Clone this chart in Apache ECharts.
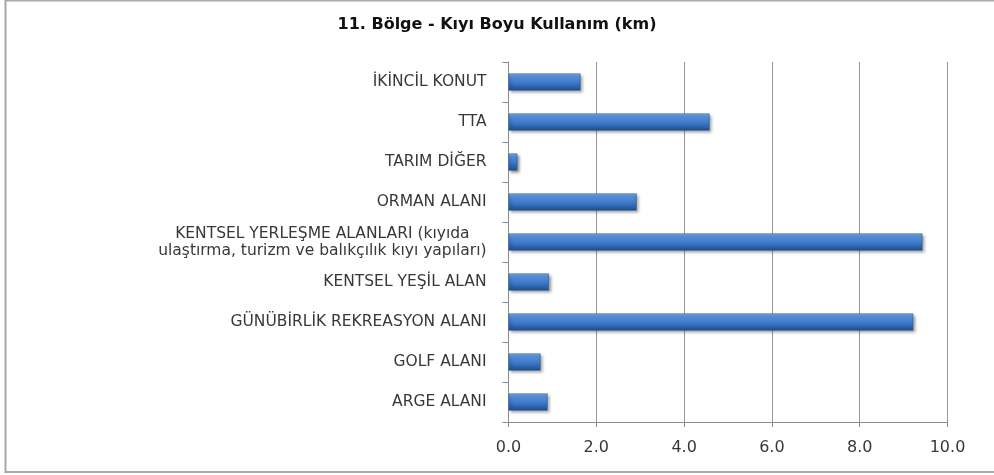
<!DOCTYPE html>
<html lang="tr">
<head>
	<meta charset="UTF-8">
	<title>11. Bölge - Kıyı Boyu Kullanım</title>
	<script src="https://cdn.jsdelivr.net/npm/echarts@6/dist/echarts.min.js"></script>
	<style>
		html,body{margin:0;padding:0;background:#fff;}
		#chart{width:994px;height:475px;}
	</style>
</head>
<body>
	<div id="chart"></div>
	<script>
	// kategoriler (alttan üste)
	var categories = [
		'ARGE ALANI',
		'GOLF ALANI',
		'GÜNÜBİRLİK REKREASYON ALANI',
		'KENTSEL YEŞİL ALAN',
		'KENTSEL YERLEŞME ALANLARI (kıyıda\nulaştırma, turizm ve balıkçılık kıyı yapıları)',
		'ORMAN ALANI',
		'TARIM DİĞER',
		'TTA',
		'İKİNCİL KONUT'
	];
	// km
	var values = [0.89, 0.73, 9.22, 0.92, 9.43, 2.92, 0.2, 4.58, 1.64];
	var xTicks = [0, 2, 4, 6, 8, 10];

	var font = '"DejaVu Sans", "Liberation Sans", sans-serif';

	var myChart = echarts.init(document.getElementById('chart'), null, {renderer: 'canvas'});

	var option = {
		backgroundColor: '#fff',
		animation: false,
		title: {
			text: '11. Bölge - Kıyı Boyu Kullanım (km)',
			left: 'center',
			top: 12,
			textStyle: {color: '#111', fontSize: 16, fontWeight: 'bold', fontFamily: font}
		},
		graphic: [{
			type: 'rect',
			shape: {x: 5.5, y: 0.5, width: 1000, height: 471.5},
			style: {fill: 'none', stroke: '#a8a8a8', lineWidth: 2},
			silent: true
		}],
		grid: {left: 508.5, right: 46.5, top: 62, bottom: 53, containLabel: false},
		xAxis: {
			type: 'value',
			min: xTicks[0],
			max: xTicks[xTicks.length - 1],
			interval: 2,
			axisLine: {show: true, lineStyle: {color: '#8c8c8c', width: 1}},
			axisTick: {show: true, length: 5, lineStyle: {color: '#8c8c8c'}},
			splitLine: {show: true, lineStyle: {color: '#9a9a9a', width: 1}},
			axisLabel: {
				color: '#383838', fontSize: 16, fontFamily: font, margin: 18,
				formatter: function (v) { return v.toFixed(1); }
			}
		},
		yAxis: {
			type: 'category',
			data: categories,
			axisLine: {show: true, lineStyle: {color: '#8c8c8c', width: 1}},
			axisTick: {show: true, length: 6, lineStyle: {color: '#8c8c8c'}},
			axisLabel: {
				color: '#383838', fontSize: 15.5, fontFamily: font, margin: 22, lineHeight: 17,
				formatter: function (v) {
					if (v.indexOf('\n') < 0) return v;
					var parts = v.split('\n');
					return parts.map(function (p) { return '{c|' + p + '}'; }).join('\n');
				},
				rich: {c: {align: 'center', color: '#383838', fontSize: 15.5, fontFamily: font, lineHeight: 17}}
			}
		},
		series: [{
			type: 'bar',
			data: values,
			barWidth: 17,
			itemStyle: {
				color: new echarts.graphic.LinearGradient(0, 0, 0, 1, [
					{offset: 0, color: '#7db0ee'},
					{offset: 0.2, color: '#5592de'},
					{offset: 0.6, color: '#3a74c2'},
					{offset: 1, color: '#1f4e8e'}
				]),
				borderColor: '#2a5a9c',
				borderWidth: 0.6,
				shadowColor: 'rgba(0,0,0,0.45)',
				shadowBlur: 3,
				shadowOffsetX: 2,
				shadowOffsetY: 2
			}
		}]
	};

	myChart.setOption(option);
	</script>
</body>
</html>
